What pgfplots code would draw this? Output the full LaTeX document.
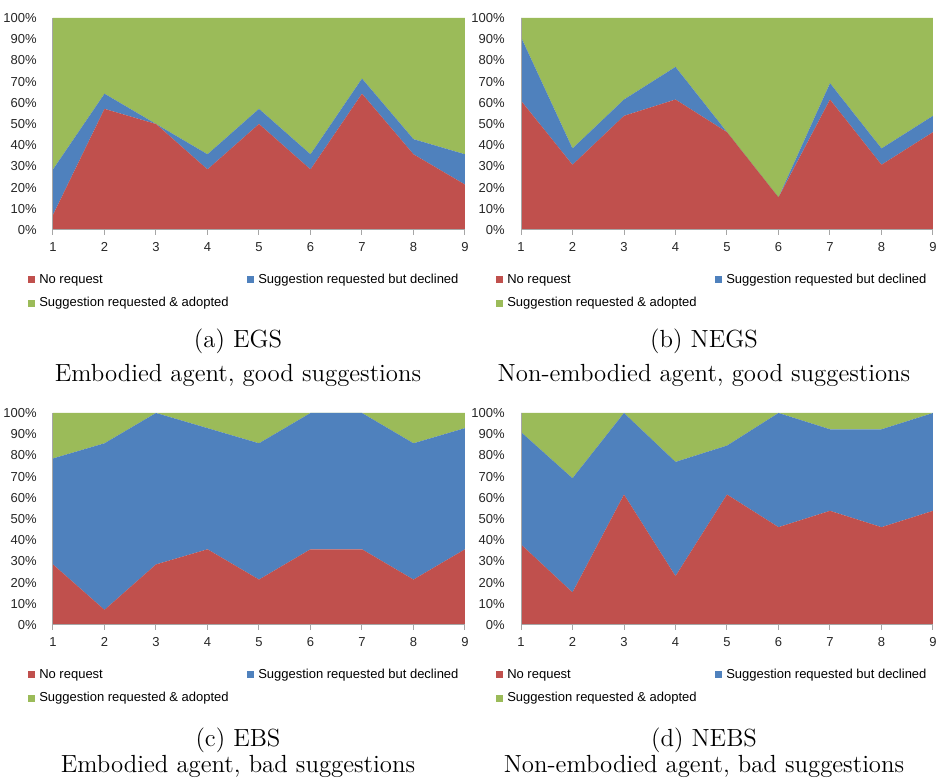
\documentclass[border=0pt]{standalone}
\usepackage{fontspec}
\usepackage{pgfplots}
\pgfplotsset{compat=1.18}
\newfontfamily\arial{Liberation Sans}
\newcommand{\smallsans}{\arial\fontsize{6.5}{7.5}\selectfont}
\newcommand{\capfont}{\fontsize{12.4}{14.5}\selectfont}
\definecolor{cred}{HTML}{C0504D}
\definecolor{cblue}{HTML}{4F81BD}
\definecolor{cgreen}{HTML}{9BBB59}
\definecolor{cax}{HTML}{A6A6A6}
\pgfplotsset{panel/.style={
  scale only axis, width=206pt, height=106pt, anchor=south west,
  xmin=1, xmax=9, ymin=0, ymax=100, enlargelimits=false,
  stack plots=y, area style,
  axis lines*=left, axis line style={cax, line width=0.5pt, -},
  xtick={1,2,3,4,5,6,7,8,9}, xticklabels={1,2,3,4,5,6,7,8,9},
  ytick={0,10,20,30,40,50,60,70,80,90,100},
  yticklabels={0\%,10\%,20\%,30\%,40\%,50\%,60\%,70\%,80\%,90\%,100\%},
  /pgf/number format/assume math mode=true,
  tick label style={font=\smallsans, text=black!85},
  xtick style={draw=cax, line width=0.5pt}, tick align=outside, major tick length=2.5pt,
  ytick style={draw=none},
  xticklabel style={inner sep=0pt, anchor=north, yshift=-3.5pt},
  yticklabel style={inner sep=0pt, anchor=east, xshift=-5.5pt},
  legend columns=2, legend cell align=left,
  legend style={draw=none, fill=none, at={(-0.06,-0.2057)}, anchor=north west,
    font=\smallsans, inner sep=0pt, outer sep=0pt, row sep=5.65pt,
    nodes={inner sep=0pt, text height=4.7pt, text depth=1.4pt},
    /tikz/every odd column/.append style={column sep=2pt},
    /tikz/every even column/.append style={column sep=0pt}},
  legend image code/.code={\fill[##1] (0pt,-1.75pt) rectangle (3.5pt,1.75pt);},
}}
\newcommand{\legs}{\legend{\makebox[104pt][l]{No request},Suggestion requested but declined,Suggestion requested \& adopted}}
\begin{document}
\begin{tikzpicture}
\useasboundingbox (0,0) rectangle (469pt,-389.5pt);
% (a) EGS
\begin{axis}[panel, at={(26.5pt,-115pt)}]
\addplot[fill=cred, draw=none] coordinates {(1,7.14) (2,57.14) (3,50) (4,28.57) (5,50) (6,28.57) (7,64.29) (8,35.71) (9,21.43)} \closedcycle;
\addplot[fill=cblue, draw=none] coordinates {(1,21.43) (2,7.14) (3,0) (4,7.14) (5,7.14) (6,7.14) (7,7.14) (8,7.14) (9,14.29)} \closedcycle;
\addplot[fill=cgreen, draw=none] coordinates {(1,71.43) (2,35.72) (3,50) (4,64.29) (5,42.86) (6,64.29) (7,28.57) (8,57.15) (9,64.28)} \closedcycle;
\legs
\end{axis}
% (b) NEGS
\begin{axis}[panel, at={(260.5pt,-115pt)}]
\addplot[fill=cred, draw=none] coordinates {(1,61.0) (2,30.77) (3,53.85) (4,61.54) (5,46.15) (6,15.38) (7,61.54) (8,30.77) (9,46.15)} \closedcycle;
\addplot[fill=cblue, draw=none] coordinates {(1,30.0) (2,7.69) (3,7.69) (4,15.38) (5,0) (6,0) (7,7.69) (8,7.69) (9,7.69)} \closedcycle;
\addplot[fill=cgreen, draw=none] coordinates {(1,9.0) (2,61.54) (3,38.46) (4,23.08) (5,53.85) (6,84.62) (7,30.77) (8,61.54) (9,46.16)} \closedcycle;
\legs
\end{axis}
% (c) EBS
\begin{axis}[panel, at={(26.5pt,-312.5pt)}]
\addplot[fill=cred, draw=none] coordinates {(1,28.57) (2,7.14) (3,28.57) (4,35.71) (5,21.43) (6,35.71) (7,35.71) (8,21.43) (9,35.71)} \closedcycle;
\addplot[fill=cblue, draw=none] coordinates {(1,50) (2,78.57) (3,71.43) (4,57.15) (5,64.28) (6,64.29) (7,64.29) (8,64.28) (9,57.15)} \closedcycle;
\addplot[fill=cgreen, draw=none] coordinates {(1,21.43) (2,14.29) (3,0) (4,7.14) (5,14.29) (6,0) (7,0) (8,14.29) (9,7.14)} \closedcycle;
\legs
\end{axis}
% (d) NEBS
\begin{axis}[panel, at={(260.5pt,-312.5pt)}]
\addplot[fill=cred, draw=none] coordinates {(1,38.0) (2,15.38) (3,61.54) (4,23.08) (5,61.54) (6,46.15) (7,53.85) (8,46.15) (9,53.85)} \closedcycle;
\addplot[fill=cblue, draw=none] coordinates {(1,53.0) (2,53.85) (3,38.46) (4,53.85) (5,23.08) (6,53.85) (7,38.46) (8,46.16) (9,46.15)} \closedcycle;
\addplot[fill=cgreen, draw=none] coordinates {(1,9.0) (2,30.77) (3,0) (4,23.07) (5,15.38) (6,0) (7,7.69) (8,7.69) (9,0)} \closedcycle;
\legs
\end{axis}
% captions
\node[anchor=base, font=\capfont] at (119pt,-174pt) {(a) EGS};
\node[anchor=base, font=\capfont] at (119pt,-190.8pt) {Embodied agent, good suggestions};
\node[anchor=base, font=\capfont] at (352pt,-174pt) {(b) NEGS};
\node[anchor=base, font=\capfont] at (352pt,-190.8pt) {Non-embodied agent, good suggestions};
\node[anchor=base, font=\capfont] at (119pt,-373.5pt) {(c) EBS};
\node[anchor=base, font=\capfont] at (119pt,-386.3pt) {Embodied agent, bad suggestions};
\node[anchor=base, font=\capfont] at (352pt,-373.5pt) {(d) NEBS};
\node[anchor=base, font=\capfont] at (352pt,-386.3pt) {Non-embodied agent, bad suggestions};
\end{tikzpicture}
\end{document}
